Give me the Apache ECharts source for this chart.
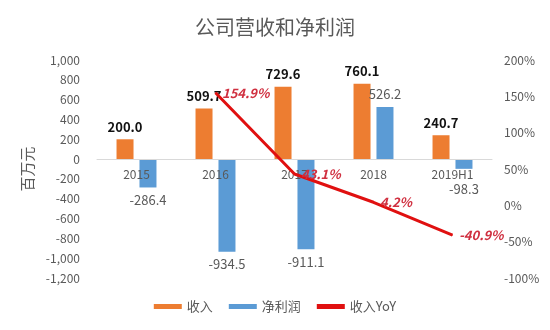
<!DOCTYPE html>
<html><head><meta charset="utf-8">
<script src="https://cdn.jsdelivr.net/npm/echarts@6/dist/echarts.min.js"></script>
<style>html,body{margin:0;padding:0;background:#fff}#c{width:550px;height:330px}</style>
</head><body><div id="c"></div>
<script>
const categories = ['2015','2016','2017','2018','2019H1'];
const revenue = [200.0, 509.7, 729.6, 760.1, 240.7];
const netProfit = [-286.4, -934.5, -911.1, 526.2, -98.3];
const revenueYoY = [null, 154.9, 43.1, 4.2, -40.9];
const leftTicks = { min: -1200, max: 1000, interval: 200 };
const rightTicks = { min: -100, max: 200, interval: 50 };

const font = '"Microsoft YaHei","Noto Sans CJK SC",sans-serif';
const gridTop = 60, gridBottom = 52, H = 330;
const gridH = H - gridTop - gridBottom;
const zeroOffset = -gridH * (0 - leftTicks.min) / (leftTicks.max - leftTicks.min);

const chart = echarts.init(document.getElementById('c'));
chart.setOption({
  backgroundColor: '#fff',
  animation: false,
  title: { text: '公司营收和净利润', left: 'center', top: 12,
    textStyle: { fontSize: 20, fontWeight: 'normal', color: '#595959', fontFamily: font } },
  legend: { bottom: 12, left: 'center', itemGap: 16, itemWidth: 28, itemHeight: 5,
    textStyle: { fontSize: 13, color: '#595959', fontFamily: font },
    data: [{name:'收入', icon:'rect'}, {name:'净利润', icon:'rect'},
           {name:'收入YoY', icon:'rect', itemStyle: { color: '#E01010' }}] },
  grid: { left: 97, right: 58, top: gridTop, bottom: gridBottom, containLabel: false },
  xAxis: { type: 'category', data: categories, position: 'bottom', offset: zeroOffset, z: 3,
    axisLine: { onZero: false, lineStyle: { color: '#d9d9d9', width: 1 } },
    axisTick: { show: false },
    axisLabel: { color: '#595959', fontSize: 12, fontFamily: font, margin: 9 } },
  yAxis: [
    { type: 'value', min: leftTicks.min, max: leftTicks.max, interval: leftTicks.interval,
      name: '百万元', nameLocation: 'middle', nameRotate: 90, nameGap: 58,
      nameTextStyle: { color: '#595959', fontSize: 15, fontFamily: font },
      axisLine: { show: false }, axisTick: { show: false }, splitLine: { show: false },
      axisLabel: { color: '#595959', fontSize: 12, fontFamily: font, margin: 17,
        formatter: v => v.toLocaleString('en-US') } },
    { type: 'value', min: rightTicks.min, max: rightTicks.max, interval: rightTicks.interval,
      axisLine: { show: false }, axisTick: { show: false }, splitLine: { show: false },
      axisLabel: { color: '#595959', fontSize: 12, fontFamily: font, margin: 12,
        formatter: '{value}%' } }
  ],
  series: [
    { name: '收入', type: 'bar', data: revenue, barWidth: 17, barGap: '35%',
      itemStyle: { color: '#ED7D31' },
      label: { show: true, position: 'top', distance: 6, color: '#111', fontWeight: 'bold',
        fontSize: 13, fontFamily: font, formatter: p => p.value.toFixed(1) } },
    { name: '净利润', type: 'bar', barWidth: 17,
      data: netProfit.map(v => ({ value: v, label: {
        position: v < 0 ? 'bottom' : 'top',
        distance: (v < 0 && v > -150) ? 14 : 6 } })),
      itemStyle: { color: '#5B9BD5' },
      label: { show: true, position: 'top', distance: 6, color: '#595959',
        fontSize: 13, fontFamily: font, formatter: p => p.value.toFixed(1) } },
    { name: '收入YoY', type: 'line', yAxisIndex: 1, data: revenueYoY, z: 5,
      showSymbol: true, symbol: 'circle', symbolSize: 1,
      lineStyle: { color: '#E01010', width: 3 }, itemStyle: { color: '#E01010' },
      label: { show: true, position: 'right', distance: 6, color: '#D03040', fontStyle: 'italic',
        fontWeight: 'bold', fontSize: 13, fontFamily: font, formatter: p => p.value.toFixed(1) + '%' } }
  ]
});
</script></body></html>
